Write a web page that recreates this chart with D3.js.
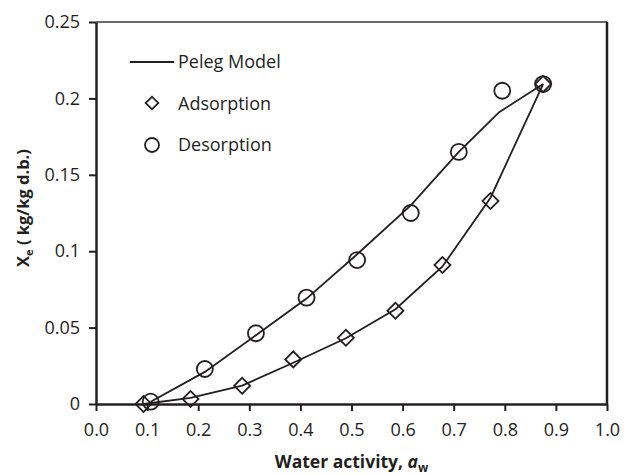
<!DOCTYPE html>
<html>
<head>
<meta charset="utf-8">
<script src="https://cdn.jsdelivr.net/npm/d3@7"></script>
<style>
  body { margin: 0; background: #fff; }
  text { font-family: "Open Sans", sans-serif; fill: #231f20; }
</style>
</head>
<body>
<div id="chart"></div>
<script>
// data
var desAw = [0.107, 0.213, 0.313, 0.412, 0.511, 0.616, 0.710, 0.795, 0.875];
var desXe = [0.0015, 0.0229, 0.0463, 0.0696, 0.0942, 0.125, 0.165, 0.205, 0.2094];
var desModelAw = [0.107, 0.213, 0.313, 0.412, 0.511, 0.616, 0.710, 0.789, 0.875];
var desModel = [0.0015, 0.021, 0.045, 0.069, 0.098, 0.130, 0.165, 0.191, 0.2094];

var adsAw = [0.093, 0.185, 0.286, 0.386, 0.489, 0.586, 0.678, 0.772, 0.875];
var adsXe = [0, 0.0033, 0.012, 0.0292, 0.0434, 0.061, 0.091, 0.1329, 0.2094];
var adsModel = [0, 0.004, 0.012, 0.027, 0.043, 0.062, 0.090, 0.135, 0.2094];

var xTicks = [0, 0.1, 0.2, 0.3, 0.4, 0.5, 0.6, 0.7, 0.8, 0.9, 1.0];
var yTicks = [0, 0.05, 0.1, 0.15, 0.2, 0.25];
var yTickLabels = ["0", "0.05", "0.1", "0.15", "0.2", "0.25"];
var legendLabels = ["Peleg Model", "Adsorption", "Desorption"];

var svgWidth = 625;
var svgHeight = 475;
var margin = { top: 22, left: 96, right: 18, bottom: 71 };
var width = svgWidth - margin.left - margin.right;
var height = svgHeight - margin.top - margin.bottom;

var svg = d3.select("#chart")
    .append("svg")
    .attr("width", svgWidth)
    .attr("height", svgHeight);

var g = svg.append("g")
    .attr("transform", `translate(${margin.left}, ${margin.top})`);

var xScale = d3.scaleLinear().domain([0, 1]).range([0, width]);
var yScale = d3.scaleLinear().domain([0, 0.25]).range([height, 0]);

// box: top thin, right thick
g.append("line")
    .attr("x1", 0).attr("x2", width).attr("y1", 0).attr("y2", 0)
    .attr("stroke", "#3a3a3a").attr("stroke-width", 1.5);
g.append("line")
    .attr("x1", width).attr("x2", width).attr("y1", 0).attr("y2", height)
    .attr("stroke", "#231f20").attr("stroke-width", 2.5);

// axes
var xAxis = d3.axisBottom(xScale)
    .tickValues(xTicks)
    .tickFormat(d3.format(".1f"))
    .tickSizeInner(7).tickSizeOuter(0).tickPadding(16);
var yAxis = d3.axisLeft(yScale)
    .tickValues(yTicks)
    .tickFormat((d, i) => yTickLabels[i])
    .tickSizeInner(7).tickSizeOuter(0).tickPadding(9);

var xg = g.append("g")
    .attr("transform", `translate(0, ${height})`)
    .call(xAxis);
var yg = g.append("g").call(yAxis);

[xg, yg].forEach(function(ax) {
    ax.select(".domain").attr("stroke", "#231f20").attr("stroke-width", 2.5);
    ax.selectAll(".tick line").attr("stroke", "#231f20").attr("stroke-width", 2);
    ax.selectAll(".tick text")
        .attr("font-family", "Open Sans")
        .attr("font-size", "18px")
        .attr("fill", "#231f20");
});
xg.selectAll(".tick text").attr("dy", "0.5em");

// model lines
var line = d3.line()
    .x(d => xScale(d[0]))
    .y(d => yScale(d[1]));

g.append("path")
    .datum(desModelAw.map((a, i) => [a, desModel[i]]))
    .attr("d", line)
    .attr("fill", "none")
    .attr("stroke", "#231f20")
    .attr("stroke-width", 1.8);

g.append("path")
    .datum(adsAw.map((a, i) => [a, adsModel[i]]))
    .attr("d", line)
    .attr("fill", "none")
    .attr("stroke", "#231f20")
    .attr("stroke-width", 1.8);

// desorption circles
g.selectAll("circle.des")
    .data(desAw.map((a, i) => [a, desXe[i]]))
    .enter()
    .append("circle")
    .attr("class", "des")
    .attr("cx", d => xScale(d[0]))
    .attr("cy", d => yScale(d[1]))
    .attr("r", 8)
    .attr("fill", "none")
    .attr("stroke", "#231f20")
    .attr("stroke-width", 1.8);

// adsorption diamonds
var diamond = d3.symbol().type(d3.symbolSquare).size(128);
g.selectAll("path.ads")
    .data(adsAw.map((a, i) => [a, adsXe[i]]))
    .enter()
    .append("path")
    .attr("class", "ads")
    .attr("d", diamond)
    .attr("transform", d => `translate(${xScale(d[0])}, ${yScale(d[1])}) rotate(45)`)
    .attr("fill", "none")
    .attr("stroke", "#231f20")
    .attr("stroke-width", 1.8);

// legend
var legend = svg.append("g");
legend.append("line")
    .attr("x1", 130).attr("x2", 174).attr("y1", 62).attr("y2", 62)
    .attr("stroke", "#231f20").attr("stroke-width", 1.8);
legend.append("path")
    .attr("d", d3.symbol().type(d3.symbolSquare).size(80))
    .attr("transform", "translate(152, 103) rotate(45)")
    .attr("fill", "none").attr("stroke", "#231f20").attr("stroke-width", 1.8);
legend.append("circle")
    .attr("cx", 152).attr("cy", 145).attr("r", 7)
    .attr("fill", "none").attr("stroke", "#231f20").attr("stroke-width", 1.8);
legend.selectAll("text")
    .data(legendLabels)
    .enter()
    .append("text")
    .attr("x", 178)
    .attr("y", (d, i) => 62 + i * 41.5)
    .attr("dy", "0.35em")
    .attr("font-size", "18px")
    .text(d => d);

// axis titles
var xt = svg.append("text")
    .attr("x", margin.left + width / 2)
    .attr("y", 468)
    .attr("text-anchor", "middle")
    .attr("font-size", "17.5px")
    .attr("font-weight", "bold");
xt.append("tspan").text("Water activity, ");
xt.append("tspan").attr("font-style", "italic").text("a");
xt.append("tspan").attr("font-size", "12px").attr("dy", 4).text("w");

var yt = svg.append("text")
    .attr("transform", "translate(29, 208) rotate(-90)")
    .attr("text-anchor", "middle")
    .attr("font-size", "16.5px")
    .attr("font-weight", "bold");
yt.append("tspan").text("X");
yt.append("tspan").attr("font-size", "11px").attr("dy", 4).text("e");
yt.append("tspan").attr("dy", -4).text(" ( kg/kg d.b.)");
</script>
</body>
</html>
